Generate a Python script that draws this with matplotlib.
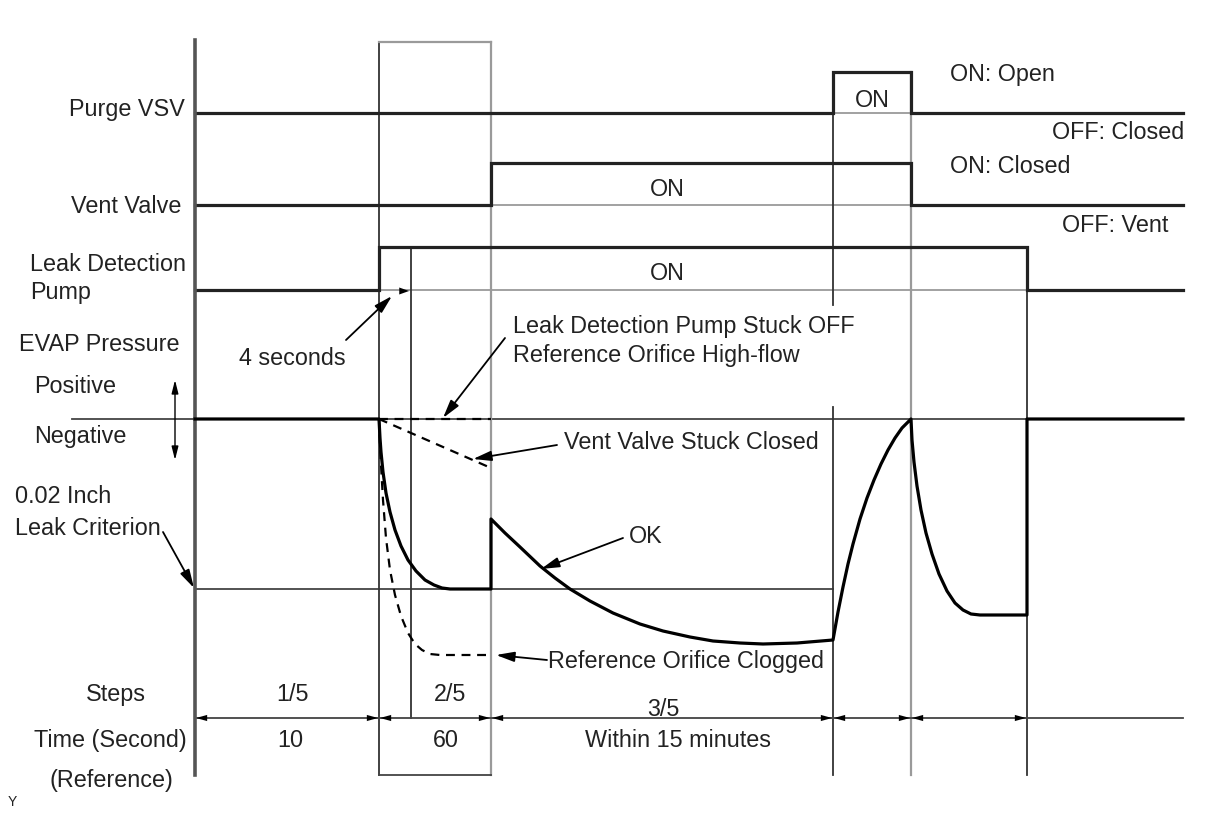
import matplotlib.pyplot as plt

plt.rcParams['font.family'] = ['Liberation Sans', 'DejaVu Sans']

# --- timeline events (diagram time axis) ---
T_START = 195
T_PUMP_ON = 379
T_4S = 411
T_VENT_ON = 491
T_PURGE_ON = 833
T_PURGE_OFF = 911
T_PUMP_OFF = 1027
T_END = 1183

# --- on/off rows: (off level, on level) and switch times ---
purge_levels = (113, 72)
purge_switch = [T_PURGE_ON, T_PURGE_OFF]
vent_levels = (205, 163)
vent_switch = [T_VENT_ON, T_PURGE_OFF]
pump_levels = (290, 247)
pump_switch = [T_PUMP_ON, T_PUMP_OFF]

# --- EVAP pressure levels ---
p_zero = 419        # Negative / positive boundary
p_criterion = 589   # 0.02 inch leak criterion

# OK trace
ok_x = [195, 379, 380, 381, 383, 386, 390, 395, 401, 408, 416, 425, 434, 442, 450, 491,
        491, 505, 520, 540, 555, 570, 590, 613, 640, 663, 690, 713, 740, 763, 797, 833,
        838, 843, 848, 853, 860, 867, 874, 881, 888, 895, 902, 911,
        912, 914, 917, 921, 926, 932, 939, 947, 955, 963, 971, 980, 1027, 1027, 1183]
ok_y = [419, 419, 438, 452, 472, 493, 512, 530, 546, 560, 571, 580, 585, 588, 589, 589,
        519, 533, 547, 566, 578, 589, 601, 613, 624, 631, 637, 641, 643, 644, 643, 640,
        612, 587, 564, 544, 519, 498, 480, 464, 450, 438, 428, 419,
        440, 462, 486, 510, 533, 554, 574, 591, 603, 610, 614, 615, 615, 419, 419]

# failure traces (dashed)
clog_x = [379, 380, 381, 383, 386, 390, 395, 401, 408, 415, 422, 430, 440, 491]
clog_y = [419, 445, 465, 500, 538, 570, 595, 616, 633, 644, 650, 654, 655, 655]
stuck_off_x = [379, 491]
stuck_off_y = [419, 419]
vent_stuck_x = [379, 491]
vent_stuck_y = [419, 468]

# steps / time table
step_bounds = [T_START, T_PUMP_ON, T_VENT_ON, T_PURGE_ON, T_PURGE_OFF, T_PUMP_OFF]
step_labels = [("1/5", 293, 701), ("2/5", 450, 701), ("3/5", 663, 716)]
time_labels = [("10", 290, 747), ("60", 446, 747), ("Within 15 minutes", 678, 747)]

DARK = '#222222'
GRAY = '#9a9a9a'
THICK = 2.3
THIN = 1.3
FS = 16.8

fig = plt.figure(figsize=(12.08, 8.14), dpi=100)
ax = fig.add_axes([0, 0, 1, 1])
ax.set_xlim(0, 1208)
ax.set_ylim(814, 0)
ax.axis('off')


def step_row(levels, switch, thin_color):
    off, on = levels
    xs = [T_START, switch[0], switch[0], switch[1], switch[1], T_END]
    ys = [off, off, on, on, off, off]
    ax.plot([switch[0], switch[1]], [off, off], color=thin_color, lw=THIN, zorder=2)
    ax.plot(xs, ys, color=DARK, lw=THICK, solid_joinstyle='miter', zorder=3)


step_row(purge_levels, purge_switch, GRAY)
step_row(vent_levels, vent_switch, GRAY)
step_row(pump_levels, pump_switch, GRAY)

# reference lines for pressure
ax.plot([72, T_PUMP_OFF], [p_zero, p_zero], color='#444444', lw=THIN, zorder=2)
ax.plot([T_START, T_PURGE_ON], [p_criterion, p_criterion], color='#444444', lw=THIN, zorder=2)

# vertical axis and event lines
ax.plot([T_START, T_START], [40, 775], color='#555555', lw=2.6, zorder=4)
ax.plot([T_PUMP_ON, T_PUMP_ON], [42, 775], color='#333333', lw=THIN, zorder=2)
ax.plot([T_VENT_ON, T_VENT_ON], [42, 775], color=GRAY, lw=1.6, zorder=2)
ax.plot([T_PUMP_ON, T_VENT_ON], [42, 42], color=GRAY, lw=1.6, zorder=2)
ax.plot([T_PUMP_ON, T_VENT_ON], [775, 775], color='#444444', lw=THIN, zorder=2)
ax.plot([T_4S, T_4S], [247, 718], color='#333333', lw=THIN, zorder=2)
ax.plot([T_PURGE_ON, T_PURGE_ON], [72, 305], color='#333333', lw=THIN, zorder=2)
ax.plot([T_PURGE_ON, T_PURGE_ON], [407, 775], color='#333333', lw=THIN, zorder=2)
ax.plot([T_PURGE_OFF, T_PURGE_OFF], [72, 775], color=GRAY, lw=1.6, zorder=2)
ax.plot([T_PUMP_OFF, T_PUMP_OFF], [247, 775], color='#333333', lw=THIN, zorder=2)

# pressure traces
ax.plot(ok_x, ok_y, color='black', lw=THICK, solid_joinstyle='round', zorder=5)
ax.plot(clog_x, clog_y, color='black', lw=1.6, ls=(0, (4, 3)), zorder=5)
ax.plot(stuck_off_x, stuck_off_y, color='black', lw=1.6, ls=(0, (4, 3)), zorder=5)
ax.plot(vent_stuck_x, vent_stuck_y, color='black', lw=1.6, ls=(0, (4, 3)), zorder=5)

# step dimension line
ax.plot([T_START, T_END], [718, 718], color='#444444', lw=THIN, zorder=2)
for a, b in zip(step_bounds[:-1], step_bounds[1:]):
    ax.annotate('', xy=(a + 1, 718), xytext=(b - 1, 718),
                arrowprops=dict(arrowstyle='<|-|>,head_length=0.8,head_width=0.22',
                                color='black', lw=0.01, shrinkA=0, shrinkB=0,
                                mutation_scale=10))

# annotation arrows
arrow_kw = dict(arrowstyle='-|>,head_length=1.1,head_width=0.3', color='black',
                lw=1.3, shrinkA=0, shrinkB=0, mutation_scale=10)
ax.annotate('', xy=(392, 296), xytext=(346, 340), arrowprops=arrow_kw)
ax.annotate('', xy=(443, 418), xytext=(505, 338), arrowprops=arrow_kw)
ax.annotate('', xy=(473, 459), xytext=(557, 445), arrowprops=arrow_kw)
ax.annotate('', xy=(541, 569), xytext=(623, 538), arrowprops=arrow_kw)
ax.annotate('', xy=(496, 655), xytext=(547, 660), arrowprops=arrow_kw)
ax.annotate('', xy=(194, 588), xytext=(163, 532), arrowprops=arrow_kw)
ax.annotate('', xy=(T_4S - 2, 291), xytext=(T_PUMP_ON + 4, 291),
            arrowprops=dict(arrowstyle='-|>,head_length=0.7,head_width=0.25',
                            color='black', lw=0.01, shrinkA=0, shrinkB=0,
                            mutation_scale=10))
ax.annotate('', xy=(175, 380), xytext=(175, 460),
            arrowprops=dict(arrowstyle='<|-|>,head_length=0.8,head_width=0.2',
                            color='black', lw=1.0, shrinkA=0, shrinkB=0,
                            mutation_scale=10))

# texts
txt = dict(color=DARK, fontsize=FS, va='baseline')
ax.text(185, 116, "Purge VSV", ha='right', **txt)
ax.text(181, 213, "Vent Valve", ha='right', **txt)
ax.text(30, 271, "Leak Detection", ha='left', **txt)
ax.text(30, 299, "Pump", ha='left', **txt)
ax.text(19, 351, "EVAP Pressure", ha='left', **txt)
ax.text(34, 393, "Positive", ha='left', **txt)
ax.text(34, 443, "Negative", ha='left', **txt)
ax.text(15, 503, "0.02 Inch", ha='left', **txt)
ax.text(15, 535, "Leak Criterion", ha='left', **txt)
ax.text(116, 701, "Steps", ha='center', **txt)
ax.text(110, 747, "Time (Second)", ha='center', **txt)
ax.text(111, 787, "(Reference)", ha='center', **txt)
ax.text(8, 806, "Y", ha='left', color=DARK, fontsize=10, va='baseline')

ax.text(872, 107, "ON", ha='center', **txt)
ax.text(667, 196, "ON", ha='center', **txt)
ax.text(667, 280, "ON", ha='center', **txt)
ax.text(950, 81, "ON: Open", ha='left', **txt)
ax.text(1184, 139, "OFF: Closed", ha='right', **txt)
ax.text(950, 173, "ON: Closed", ha='left', **txt)
ax.text(1168, 232, "OFF: Vent", ha='right', **txt)

ax.text(292, 365, "4 seconds", ha='center', **txt)
ax.text(513, 333, "Leak Detection Pump Stuck OFF", ha='left', **txt)
ax.text(513, 362, "Reference Orifice High-flow", ha='left', **txt)
ax.text(564, 449, "Vent Valve Stuck Closed", ha='left', **txt)
ax.text(629, 543, "OK", ha='left', **txt)
ax.text(548, 668, "Reference Orifice Clogged", ha='left', **txt)

for label, x, y in step_labels + time_labels:
    ax.text(x, y, label, ha='center', **txt)

fig.savefig('out.png', dpi=100)
